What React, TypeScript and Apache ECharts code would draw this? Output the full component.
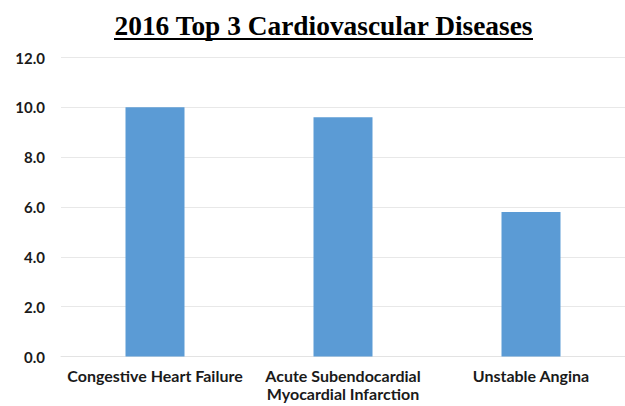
import React, { useEffect, useRef } from "react";
import * as echarts from "echarts";

const titleText = "2016 Top 3 Cardiovascular Diseases";
const categories = ["Congestive Heart Failure", "Acute Subendocardial\nMyocardial Infarction", "Unstable Angina"];
const values = [10.0, 9.6, 5.8];
const yMin = 0;
const yMax = 12;
const yInterval = 2;

export default function App() {
  const ref = useRef<HTMLDivElement>(null);
  useEffect(() => {
    if (!ref.current) return;
    const chart = echarts.init(ref.current, undefined, { renderer: "svg" });
    chart.setOption({
      animation: false,
      backgroundColor: "#ffffff",
      graphic: [
        {
          type: "text",
          x: 323.5,
          y: 26,
          style: {
            text: titleText,
            font: "bold 27.4px 'Liberation Serif', 'Times New Roman', serif",
            fill: "#000000",
            align: "center",
            verticalAlign: "middle",
          },
        },
        {
          type: "line",
          shape: { x1: 114, y1: 39, x2: 533, y2: 39 },
          style: { stroke: "#000000", lineWidth: 2 },
        },
      ],
      grid: { left: 61, right: -3, top: 57.5, bottom: 49.5, containLabel: false },
      xAxis: {
        type: "category",
        data: categories,
        axisLine: { show: true, lineStyle: { color: "#e3e3e3", width: 1 } },
        axisTick: { show: false },
        axisLabel: {
          interval: 0,
          margin: 10,
          color: "#1a1a1a",
          fontFamily: "Lato",
          fontWeight: "bold",
          fontSize: 16,
          lineHeight: 18,
        },
      },
      yAxis: {
        type: "value",
        min: yMin,
        max: yMax,
        interval: yInterval,
        axisLine: { show: false },
        axisTick: { show: false },
        splitLine: { show: true, lineStyle: { color: "#e8e8e8", width: 1 } },
        axisLabel: {
          margin: 16,
          color: "#1a1a1a",
          fontFamily: "Lato",
          fontWeight: "bold",
          fontSize: 15,
          formatter: (v: number) => v.toFixed(1),
        },
      },
      series: [
        {
          type: "bar",
          data: values,
          barWidth: 59,
          itemStyle: { color: "#5b9bd5" },
        },
      ],
    });
    return () => chart.dispose();
  }, []);
  return (
    <div style={{ position: "fixed", left: 0, top: 0, width: 625, height: 406 }}>
      <div ref={ref} style={{ width: 625, height: 406 }} />
    </div>
  );
}
